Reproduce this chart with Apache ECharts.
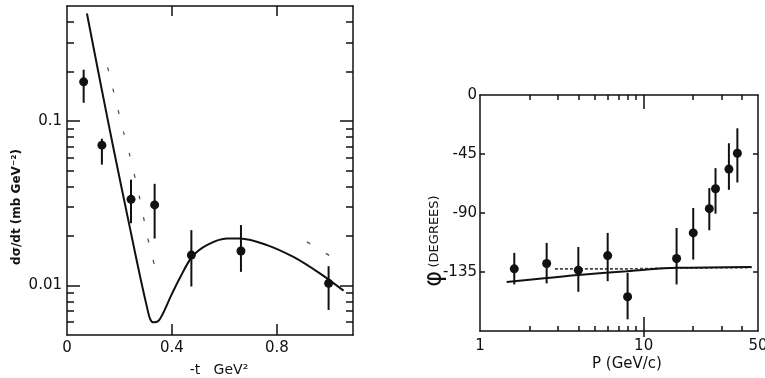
<!DOCTYPE html>
<html><head><meta charset="utf-8">
<script src="https://cdn.jsdelivr.net/npm/echarts@6/dist/echarts.min.js"></script>
<style>html,body{margin:0;padding:0;background:#fff}#c{width:765px;height:378px}</style>
</head><body><div id="c"></div>
<script>
// ---- Left panel: d(sigma)/dt vs -t ----
const tPoints   = [0.0635, 0.133, 0.244, 0.334, 0.474, 0.663, 0.997];
const sigPoints = [0.173, 0.0713, 0.0334, 0.0309, 0.0153, 0.0162, 0.0103];
const sigErrHi  = [0.205, 0.078, 0.044, 0.0415, 0.0217, 0.0233, 0.0131];
const sigErrLo  = [0.129, 0.0543, 0.0239, 0.0193, 0.00986, 0.0121, 0.0071];
const tCurve    = [0.076, 0.127, 0.178, 0.239, 0.279, 0.305, 0.317, 0.330, 0.349, 0.368, 0.394, 0.432, 0.476, 0.533, 0.610, 0.660, 0.762, 0.863, 0.965, 1.054];
const sigCurve  = [0.450, 0.172, 0.0671, 0.0227, 0.01125, 0.00736, 0.00625, 0.00597, 0.00611, 0.00687, 0.00849, 0.01125, 0.0149, 0.0176, 0.0193, 0.0193, 0.0176, 0.0149, 0.0118, 0.0093];
const tDash     = [0.155, 0.216, 0.240, 0.277, 0.306, 0.335, 0.343, null, 0.914, 0.946, 1.003];
const sigDash   = [0.212, 0.0849, 0.0611, 0.0340, 0.0200, 0.01294, 0.01178, null, 0.0184, 0.0172, 0.0151];
const tTickLabels   = [0, 0.4, 0.8];
const sigTickLabels = [0.01, 0.1];
const sigMinorTicks = [0.006, 0.007, 0.008, 0.009, 0.02, 0.03, 0.04, 0.05, 0.06, 0.07, 0.08, 0.09, 0.2, 0.3, 0.4];

// ---- Right panel: phi vs P ----
const pPoints   = [1.62, 2.555, 3.99, 6.03, 7.98, 15.9, 20.1, 25.2, 27.5, 33.2, 37.4];
const phiPoints = [-132.6, -128.5, -133.6, -122.5, -153.9, -124.7, -105.2, -86.7, -71.5, -56.5, -44.4];
const phiErrHi  = [-120.4, -112.8, -115.9, -105.2, -135.6, -101.4, -86.2, -71.0, -55.8, -36.8, -25.4];
const phiErrLo  = [-144.5, -143.7, -150.1, -142.0, -171.1, -144.5, -125.5, -103.2, -90.5, -72.3, -66.7];
const pCurve    = [1.455, 2.555, 3.99, 7.87, 10.5, 15.9, 45.7];
const phiCurve  = [-142.7, -139.6, -137.2, -134.4, -133.0, -131.8, -131.1];
const pDash     = [2.87, 8.0, 15.9, 45.7];
const phiDash   = [-132.6, -132.6, -132.0, -131.6];
const pTickLabels   = [1, 10, 50];
const pMinorTicks   = [2, 3, 4, 5, 6, 7, 8, 9, 20, 30, 40];
const phiTickLabels = [0, -45, -90, -135];

const INK = '#111';
const FONT = 'DejaVu Sans';
const zip = (a, b) => a.map((v, i) => (v === null ? [null, null] : [v, b[i]]));

function errBars(xi, yi, xs, lo, hi) {
  return {
    type: 'custom', xAxisIndex: xi, yAxisIndex: yi, silent: true, z: 3, clip: false,
    data: xs.map((x, i) => [x, lo[i], hi[i]]),
    encode: { x: 0, y: [1, 2] },
    renderItem: (params, api) => {
      const a = api.coord([api.value(0), api.value(1)]);
      const b = api.coord([api.value(0), api.value(2)]);
      return { type: 'line', shape: { x1: a[0], y1: a[1], x2: b[0], y2: b[1] }, style: { stroke: INK, lineWidth: 2 } };
    }
  };
}
const line = (w) => ({ show: true, onZero: false, lineStyle: { color: INK, width: w } });
const noLine = { show: false, onZero: false };
const lbl = { color: INK, fontFamily: FONT, fontSize: 15 };
function tick(vals, len, inside) {
  return { show: true, inside: inside !== false, length: len, customValues: vals, lineStyle: { color: INK, width: 1.5 } };
}

const chart = echarts.init(document.getElementById('c'), null, { renderer: 'canvas' });
chart.setOption({
  animation: false,
  backgroundColor: '#fff',
  grid: [
    { left: 67, top: 6, width: 286, height: 329, containLabel: false, outerBoundsMode: 'none' },
    { left: 480, top: 95, width: 278, height: 236, containLabel: false, outerBoundsMode: 'none' }
  ],
  xAxis: [
    { gridIndex: 0, type: 'value', position: 'bottom', min: 0, max: 1.09, axisLine: line(1.5),
      axisTick: tick([0.4, 0.8], 11), splitLine: { show: false },
      axisLabel: Object.assign({}, lbl, { customValues: tTickLabels, margin: 6, formatter: v => (v === 0 ? '0' : v.toFixed(1)) }) },
    { gridIndex: 0, type: 'value', position: 'top', min: 0, max: 1.09, axisLine: line(1.5),
      axisTick: tick([0.4, 0.8], 10), splitLine: { show: false }, axisLabel: { show: false } },
    { gridIndex: 1, type: 'log', position: 'bottom', min: 1, max: 50, axisLine: line(1.5),
      axisTick: tick(pMinorTicks, 5), splitLine: { show: false }, minorTick: { show: false },
      axisLabel: Object.assign({}, lbl, { customValues: pTickLabels, margin: 8, formatter: v => String(Math.round(v)) }) },
    { gridIndex: 1, type: 'log', position: 'bottom', min: 1, max: 50, axisLine: noLine,
      axisTick: tick([10], 14), splitLine: { show: false }, axisLabel: { show: false } },
    { gridIndex: 1, type: 'log', position: 'bottom', min: 1, max: 50, axisLine: noLine,
      axisTick: tick([10], 6, false), splitLine: { show: false }, axisLabel: { show: false } },
    { gridIndex: 1, type: 'log', position: 'top', min: 1, max: 50, axisLine: line(1.5),
      axisTick: tick(pMinorTicks, 5), splitLine: { show: false }, axisLabel: { show: false } },
    { gridIndex: 1, type: 'log', position: 'top', min: 1, max: 50, axisLine: noLine,
      axisTick: tick([10], 14), splitLine: { show: false }, axisLabel: { show: false } }
  ],
  yAxis: [
    { gridIndex: 0, type: 'log', position: 'left', min: 0.005, max: 0.5, axisLine: line(1.5),
      axisTick: tick(sigTickLabels, 13), splitLine: { show: false }, minorTick: { show: false },
      axisLabel: Object.assign({}, lbl, { customValues: sigTickLabels, margin: 5, formatter: v => (v > 0.05 ? '0.1' : '0.01') }) },
    { gridIndex: 0, type: 'log', position: 'left', min: 0.005, max: 0.5, axisLine: noLine,
      axisTick: tick(sigMinorTicks, 7), splitLine: { show: false }, axisLabel: { show: false } },
    { gridIndex: 0, type: 'log', position: 'right', min: 0.005, max: 0.5, axisLine: line(1.5),
      axisTick: tick(sigTickLabels, 13), splitLine: { show: false }, axisLabel: { show: false } },
    { gridIndex: 0, type: 'log', position: 'right', min: 0.005, max: 0.5, axisLine: noLine,
      axisTick: tick(sigMinorTicks, 7), splitLine: { show: false }, axisLabel: { show: false } },
    { gridIndex: 1, type: 'value', position: 'left', min: -180, max: 0, interval: 45, axisLine: line(1.5),
      axisTick: tick([-45, -90, -135], 5), splitLine: { show: false },
      axisLabel: Object.assign({}, lbl, { customValues: phiTickLabels, margin: 3 }) },
    { gridIndex: 1, type: 'value', position: 'right', min: -180, max: 0, interval: 45, axisLine: line(1.5),
      axisTick: tick([-45, -90, -135], 5), splitLine: { show: false }, axisLabel: { show: false } }
  ],
  series: [
    { type: 'line', xAxisIndex: 0, yAxisIndex: 0, data: zip(tCurve, sigCurve), smooth: 0.3, symbol: 'none',
      lineStyle: { color: INK, width: 2 }, z: 2, silent: true },
    { type: 'line', xAxisIndex: 0, yAxisIndex: 0, data: zip(tDash, sigDash), connectNulls: false, smooth: 0.2, symbol: 'none',
      lineStyle: { color: '#555', width: 1.3, type: [4, 18] }, z: 1, silent: true },
    errBars(0, 0, tPoints, sigErrLo, sigErrHi),
    { type: 'scatter', xAxisIndex: 0, yAxisIndex: 0, data: zip(tPoints, sigPoints), symbol: 'circle', symbolSize: 9,
      itemStyle: { color: INK, opacity: 1 }, z: 4, silent: true },

    { type: 'line', xAxisIndex: 2, yAxisIndex: 4, data: zip(pCurve, phiCurve), smooth: 0.3, symbol: 'none',
      lineStyle: { color: INK, width: 2 }, z: 2, silent: true },
    { type: 'line', xAxisIndex: 2, yAxisIndex: 4, data: zip(pDash, phiDash), symbol: 'none',
      lineStyle: { color: '#444', width: 1.6, type: [3, 2] }, z: 1, silent: true },
    errBars(2, 4, pPoints, phiErrLo, phiErrHi),
    { type: 'scatter', xAxisIndex: 2, yAxisIndex: 4, data: zip(pPoints, phiPoints), symbol: 'circle', symbolSize: 9,
      itemStyle: { color: INK, opacity: 1 }, z: 4, silent: true }
  ],
  graphic: [
    { type: 'text', x: 17, y: 207, rotation: Math.PI / 2, silent: true,
      style: { text: 'dσ/dt (mb GeV⁻²)', fill: INK, font: 'bold 12px "DejaVu Sans"', align: 'center', verticalAlign: 'middle' } },
    { type: 'text', x: 219, y: 370, silent: true,
      style: { text: '-t   GeV²', fill: INK, font: '14px "DejaVu Sans"', align: 'center', verticalAlign: 'middle' } },
    { type: 'text', x: 435, y: 241, rotation: Math.PI / 2, silent: true,
      style: { text: '{a|φ} {b|(DEGREES)}', fill: INK, align: 'center', verticalAlign: 'middle',
        rich: { a: { fontFamily: FONT, fontSize: 24, fill: INK }, b: { fontFamily: FONT, fontSize: 13, fill: INK } } } },
    { type: 'text', x: 627, y: 364, silent: true,
      style: { text: 'P (GeV/c)', fill: INK, font: '15px "DejaVu Sans"', align: 'center', verticalAlign: 'middle' } }
  ]
});
</script></body></html>
